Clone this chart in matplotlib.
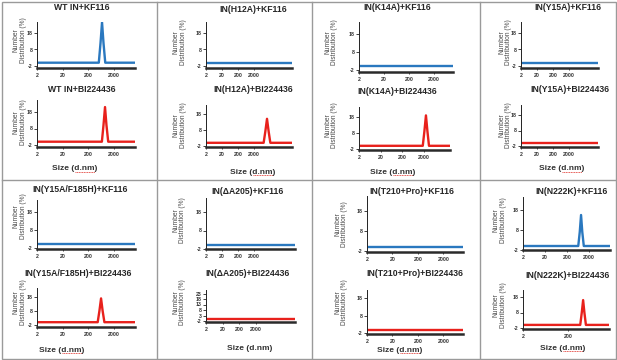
import numpy as np
import matplotlib
matplotlib.use("Agg")
import matplotlib.pyplot as plt
from matplotlib.patches import Rectangle
from matplotlib.lines import Line2D

plt.rcParams['font.family'] = ['Liberation Sans', 'DejaVu Sans']

W, H = 617, 360

# ---------------- data ----------------
titles = [
    "WT IN+KF116", "IN(H12A)+KF116", "IN(K14A)+KF116", "IN(Y15A)+KF116",
    "WT IN+BI224436", "IN(H12A)+BI224436", "IN(K14A)+BI224436", "IN(Y15A)+BI224436",
    "IN(Y15A/F185H)+KF116", "IN(\u0394A205)+KF116", "IN(T210+Pro)+KF116", "IN(N222K)+KF116",
    "IN(Y15A/F185H)+BI224436", "IN(\u0394A205)+BI224436", "IN(T210+Pro)+BI224436", "IN(N222K)+BI224436",
]
compound = ["KF116"] * 4 + ["BI224436"] * 4 + ["KF116"] * 4 + ["BI224436"] * 4

# size (d.nm) / number distribution (%) points per panel
flat_x = [2, 1e7]
flat_y = [0, 0]
wt_kf_x = [2, 530, 620, 710, 810, 950, 1e7]
wt_kf_y = [0, 0, 12, 24.5, 12, 0, 0]
wt_bi_x = [2, 700, 810, 930, 1060, 1240, 1e7]
wt_bi_y = [0, 0, 10, 21, 10, 0, 0]
h12a_bi_x = [2, 8000, 10200, 13000, 16500, 21000, 1e7]
h12a_bi_y = [0, 0, 7, 15, 7, 0, 0]
k14a_bi_x = [2, 1850, 2200, 2600, 3050, 3600, 1e7]
k14a_bi_y = [0, 0, 9, 19, 9, 0, 0]
y15af_bi_x = [2, 480, 560, 650, 750, 880, 1e7]
y15af_bi_y = [0, 0, 8, 17, 8, 0, 0]
n222k_kf_x = [2, 650, 760, 870, 990, 1160, 1e7]
n222k_kf_y = [0, 0, 7, 15.5, 7, 0, 0]
n222k_bi_x = [2, 700, 820, 940, 1070, 1250, 1e7]
n222k_bi_y = [0, 0, 8, 16, 8, 0, 0]

series_x = [wt_kf_x, flat_x, flat_x, flat_x,
            wt_bi_x, h12a_bi_x, k14a_bi_x, flat_x,
            flat_x, flat_x, flat_x, n222k_kf_x,
            y15af_bi_x, flat_x, flat_x, n222k_bi_x]
series_y = [wt_kf_y, flat_y, flat_y, flat_y,
            wt_bi_y, h12a_bi_y, k14a_bi_y, flat_y,
            flat_y, flat_y, flat_y, n222k_kf_y,
            y15af_bi_y, flat_y, flat_y, n222k_bi_y]

yticks_default = [-2, 8, 18]
yticks_a205 = [-2, 3, 8, 13, 18, 23]
xticks_default = [2, 20, 200, 2000]
xticks_n222k_bi = [2, 200]

# ---------------- layout (pixels) ----------------
# l, t, r, b, y(-2) px, y(18) px, px per decade
layout = [
    (37, 22, 135, 68, 66, 33, 25.5), (206, 22, 292, 68, 66, 33, 16.0),
    (359, 22, 453, 72, 70, 34, 25.0), (521, 22, 598, 68, 66, 33, 16.0),
    (37, 100, 135, 147, 145, 112, 25.5), (206, 105, 292, 147, 146, 114, 16.0),
    (359, 107, 450, 150, 149, 117, 21.5), (521, 105, 598, 147, 146, 115, 16.0),
    (37, 200, 135, 249, 248, 212, 25.5), (206, 198, 295, 249, 249, 212, 16.0),
    (367, 196, 463, 252, 251, 211, 25.5), (523, 197, 610, 250, 250, 210, 22.0),
    (37, 288, 135, 327, 325, 297, 25.5), (206, 290, 295, 322, 321, 299, 16.5),
    (367, 290, 463, 334, 333, 298, 25.5), (523, 290, 609, 329, 328, 297, 22.5),
]
title_pos = [(82, 8), (253, 9), (397, 8), (568, 8),
             (82, 89), (253, 90), (397, 92), (570, 89),
             (80, 190), (247, 191), (412, 192), (572, 191),
             (78, 274), (248, 274), (415, 274), (568, 276)]
ylab_pos = [(20, 40), (180, 42), (331, 42), (505, 42),
            (20, 122), (180, 125), (331, 125), (505, 125),
            (20, 216), (179, 220), (341, 224), (500, 220),
            (20, 302), (179, 302), (341, 302), (500, 305)]
size_pos = [(75, 169), (253, 172), (393, 172), (562, 169),
            (62, 350), (250, 348), (400, 350), (563, 348)]
size_underlined = [True, True, True, True, True, False, True, True]

colors = {"KF116": "#2a78bf", "BI224436": "#e8211c"}

fig = plt.figure(figsize=(W / 100, H / 100), dpi=100)


def fx(x):
    return x / W


def fy(y):
    return 1 - y / H


for i in range(16):
    l, t, r, b, p2, p18, dec = layout[i]
    ax = fig.add_axes([fx(l), fy(b), (r - l) / W, (b - t) / H])
    s = (p2 - p18) / 20.0
    ylo = -2 - (b - p2) / s
    yhi = 18 + (p18 - t) / s
    ax.set_xscale('log')
    ax.set_xlim(2, 2 * 10 ** ((r - l) / dec))
    ax.set_ylim(ylo, yhi)
    ax.plot(series_x[i], series_y[i], color=colors[compound[i]], lw=1.7,
            solid_joinstyle='round')
    for sp in ['top', 'right']:
        ax.spines[sp].set_visible(False)
    ax.spines['left'].set_linewidth(0.7)
    ax.spines['left'].set_color('#222222')
    ax.spines['bottom'].set_linewidth(1.8)
    ax.spines['bottom'].set_color('#2a2a2a')
    yt = yticks_a205 if i == 13 else yticks_default
    ax.set_yticks(yt)
    ax.set_yticklabels([str(v) for v in yt])
    xt = xticks_n222k_bi if i == 15 else xticks_default
    ax.set_xticks(xt)
    ax.set_xticklabels([str(v) for v in xt])
    ax.xaxis.set_minor_locator(matplotlib.ticker.NullLocator())
    ax.tick_params(axis='y', length=2, width=0.6, pad=1.2, labelsize=3.8,
                   labelcolor='#333333', color='#222222')
    ax.tick_params(axis='x', length=1.5, width=0.6, pad=2, labelsize=3.8,
                   labelcolor='#333333', color='#222222')
    for lab in ax.get_xticklabels() + ax.get_yticklabels():
        lab.set_fontweight('bold')
    ax.patch.set_alpha(0)

    tx, ty = title_pos[i]
    fig.text(fx(tx), fy(ty), titles[i], ha='center', va='center',
             fontsize=6.2, fontweight='bold', color='#262626')
    yx, yy = ylab_pos[i]
    fig.text(fx(yx), fy(yy), "Number\nDistribution (%)", ha='center', va='center',
             rotation=90, fontsize=4.8, color='#4a4a4a', linespacing=1.0)

size_texts = []
for (sx, sy) in size_pos:
    size_texts.append(fig.text(fx(sx), fy(sy), "Size (d.nm)", ha='center', va='center',
                               fontsize=6.0, fontweight='bold', color='#333333'))

# red spell-check underline beneath "d.nm"
fig.canvas.draw()
renderer = fig.canvas.get_renderer()
probe = fig.text(0, 0, "Size (", fontsize=6.0, fontweight='bold')
w_pre = probe.get_window_extent(renderer).width
probe.set_text("d.nm")
w_dnm = probe.get_window_extent(renderer).width
probe.remove()
for txt, ul in zip(size_texts, size_underlined):
    if not ul:
        continue
    bb = txt.get_window_extent(renderer)
    x0 = bb.x0 + w_pre
    x1 = x0 + w_dnm
    yb = bb.y0 + 0.5
    fig.lines.append(Line2D([x0 / W, x1 / W], [yb / H, yb / H],
                            transform=fig.transFigure, color='#e0302a',
                            lw=0.6, ls=(0, (1.2, 0.8))))

# panel frame and separators
fig.patches.append(Rectangle((fx(1.5), fy(358.5)), (W - 3) / W, 357 / H,
                             transform=fig.transFigure, fill=False,
                             edgecolor='#9a9a9a', lw=1.0))
for xv in [157, 312, 480]:
    fig.lines.append(Line2D([fx(xv), fx(xv)], [fy(1.5), fy(358.5)],
                            transform=fig.transFigure, color='#9a9a9a', lw=1.0))
fig.lines.append(Line2D([fx(1.5), fx(615.5)], [fy(180), fy(180)],
                        transform=fig.transFigure, color='#9a9a9a', lw=1.0))

fig.savefig("out.png", dpi=100, facecolor='white')
